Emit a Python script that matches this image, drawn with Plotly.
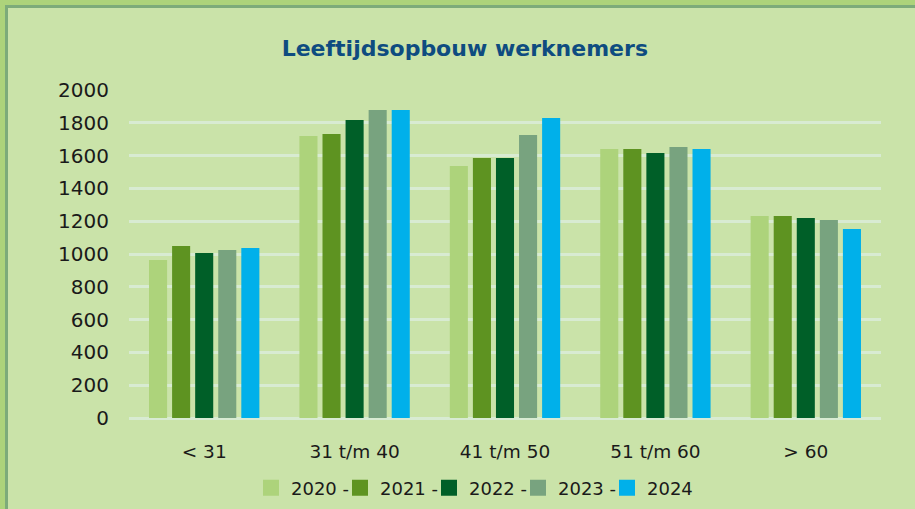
import plotly.graph_objects as go

categories = ["< 31", "31 t/m 40", "41 t/m 50", "51 t/m 60", "> 60"]
series_names = ["2020 -", "2021 -", "2022 -", "2023 -", "2024"]
values_2020 = [963, 1720, 1537, 1640, 1232]
values_2021 = [1049, 1732, 1585, 1640, 1232]
values_2022 = [1006, 1817, 1585, 1616, 1220]
values_2023 = [1024, 1878, 1726, 1652, 1207]
values_2024 = [1037, 1878, 1829, 1640, 1152]
series_values = [values_2020, values_2021, values_2022, values_2023, values_2024]
colors = ["#ADD37B", "#5E9321", "#005F28", "#78A37F", "#00B0EA"]
y_ticks = [0, 200, 400, 600, 800, 1000, 1200, 1400, 1600, 1800, 2000]

BG = "#CAE3A9"
GRID = "#D8EBD2"
FONT = "DejaVu Sans"
W, H = 915, 509
L, R, T, B = 129, 34, 90, 91
PW, PH = W - L - R, H - T - B

fig = go.Figure()
for name, vals, col in zip(series_names, series_values, colors):
    fig.add_trace(go.Bar(x=categories, y=vals, name=name, legendgroup=name, showlegend=False,
                         marker=dict(color=col, line=dict(width=0))))
# legend entries with larger square swatches
for name, col in zip(series_names, colors):
    fig.add_trace(go.Scatter(x=[None], y=[None], mode="markers", name=name, legendgroup=name,
                             marker=dict(symbol="square", size=16, color=col, line=dict(width=0)),
                             hoverinfo="skip"))

fig.update_layout(
    width=W, height=H,
    paper_bgcolor=BG, plot_bgcolor=BG,
    margin=dict(l=L, r=R, t=T, b=B, autoexpand=False),
    barmode="group", bargap=0.233, bargroupgap=0.217,
    title=dict(text="<b>Leeftijdsopbouw werknemers</b>", x=0.508, xanchor="center",
               y=1 - 48 / H, yanchor="middle",
               font=dict(family=FONT, size=22, color="#0E4C80")),
    font=dict(family=FONT, size=18, color="#1A1A1A"),
    showlegend=True,
    legend=dict(orientation="h", x=(251 - L) / PW, xanchor="left", y=-70 / PH, yanchor="middle",
                font=dict(family=FONT, size=18, color="#1A1A1A"),
                bgcolor="rgba(0,0,0,0)", itemwidth=30, tracegroupgap=0,
                itemsizing="trace", entrywidth=44, entrywidthmode="pixels"),
)
fig.update_yaxes(range=[0, 2000], tickvals=y_ticks, showgrid=True, gridcolor=GRID, gridwidth=2.5,
                 zeroline=True, zerolinecolor=GRID, zerolinewidth=2.5, automargin=False,
                 ticks="outside", ticklen=15, tickcolor="rgba(0,0,0,0)", showline=False,
                 tickfont=dict(family=FONT, size=20))
fig.update_xaxes(showgrid=False, showline=False, ticks="outside", ticklen=17, automargin=False,
                 tickcolor="rgba(0,0,0,0)", tickfont=dict(family=FONT, size=18.5))

# frame on top/left (paper coordinates)
def px_x(x):
    return (x - L) / PW

def px_y(y):
    return (H - B - y) / PH

fig.add_shape(type="rect", xref="paper", yref="paper", x0=px_x(0), x1=px_x(W),
              y0=px_y(5), y1=px_y(0), fillcolor="#ADD37B", line=dict(width=0), layer="below")
fig.add_shape(type="rect", xref="paper", yref="paper", x0=px_x(5), x1=px_x(W),
              y0=px_y(8), y1=px_y(5), fillcolor="#7DAB7A", line=dict(width=0), layer="below")
fig.add_shape(type="rect", xref="paper", yref="paper", x0=px_x(0), x1=px_x(5),
              y0=px_y(H), y1=px_y(5), fillcolor="#ADD37B", line=dict(width=0), layer="below")
fig.add_shape(type="rect", xref="paper", yref="paper", x0=px_x(5), x1=px_x(8),
              y0=px_y(H), y1=px_y(8), fillcolor="#7DAB7A", line=dict(width=0), layer="below")

fig.write_html("out.html", config={"displayModeBar": False},
               post_script="document.body.style.margin='0';document.body.style.overflow='hidden';")
